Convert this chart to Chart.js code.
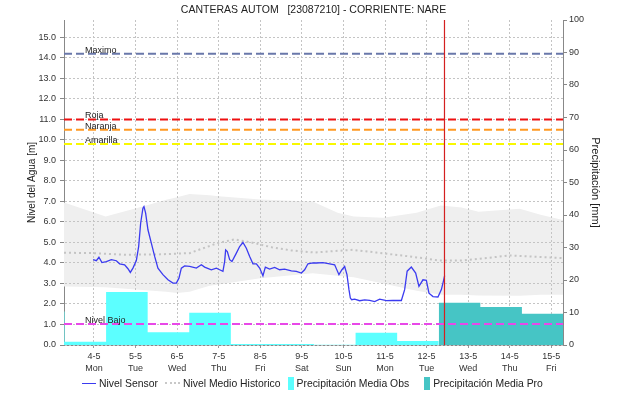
<!DOCTYPE html>
<html>
<head>
<meta charset="utf-8">
<title>CANTERAS AUTOM [23087210] - CORRIENTE: NARE</title>
<script src="https://cdn.jsdelivr.net/npm/chart.js@4.4.1/dist/chart.umd.min.js"></script>
<style>
  body { margin: 0; background: #fff; font-family: 'Liberation Sans', Arial, sans-serif; }
  #wrap { position: relative; width: 618px; height: 401px; }
  #legend { position: absolute; left: 82px; top: 376px; height: 14px; font-size: 10.4px; color: #222;
            display: flex; align-items: center; white-space: nowrap; }
  .item { display: flex; align-items: center; margin-right: 7px; }
  .sym { margin-right: 3px; }
  .line { width: 14px; border-top: 1.5px solid #3b3bf0; }
  .dots { width: 15px; border-top: 2px dotted #c8c8c8; }
  .box { width: 6px; height: 13px; }
</style>
</head>
<body>
<div id="wrap">
  <canvas id="chart" width="618" height="401"></canvas>
  <div id="legend">
    <span class="item"><span class="sym line"></span>Nivel Sensor</span>
    <span class="item"><span class="sym dots"></span>Nivel Medio Historico</span>
    <span class="item"><span class="sym box" style="background:#5cffff"></span>Precipitación Media Obs</span>
    <span class="item" style="margin-left:8px"><span class="sym box" style="background:#46c5c5"></span>Precipitación Media Pro</span>
  </div>
</div>
<script>
// x axis runs in days counted from 4-5 00:00
const dayTicks = [0, 1, 2, 3, 4, 5, 6, 7, 8, 9, 10, 11];
const dateLabels = ['4-5', '5-5', '6-5', '7-5', '8-5', '9-5', '10-5', '11-5', '12-5', '13-5', '14-5', '15-5'];
const weekdayLabels = ['Mon', 'Tue', 'Wed', 'Thu', 'Fri', 'Sat', 'Sun', 'Mon', 'Tue', 'Wed', 'Thu', 'Fri'];
const dayMin = -0.72;
const dayMax = 11.28;
const nowDay = 8.43;

// Nivel Sensor [m]
const sensorDays = [-0.02, 0.058, 0.12, 0.192, 0.298, 0.418, 0.539, 0.618, 0.738, 0.818, 0.875, 0.938,
  1.02, 1.075, 1.123, 1.178, 1.203, 1.243, 1.299, 1.38, 1.46, 1.539, 1.659, 1.78, 1.9, 1.982,
  2.044, 2.102, 2.181, 2.302, 2.463, 2.583, 2.662, 2.823, 2.944, 3.023, 3.102, 3.143, 3.167, 3.208,
  3.264, 3.319, 3.425, 3.504, 3.583, 3.665, 3.745, 3.824, 3.906, 3.985, 4.064, 4.122, 4.225, 4.346,
  4.466, 4.586, 4.747, 4.868, 4.988, 5.067, 5.147, 5.267, 5.349, 5.507, 5.669, 5.789, 5.892, 5.964,
  6.029, 6.085, 6.133, 6.166, 6.198, 6.27, 6.39, 6.511, 6.631, 6.751, 6.872, 7.032, 7.184, 7.393,
  7.472, 7.532, 7.633, 7.737, 7.816, 7.912, 7.994, 8.057, 8.153, 8.273, 8.355, 8.393, 8.434];
const sensorLevel = [4.16, 4.11, 4.28, 4.02, 4.07, 4.16, 4.11, 3.96, 3.91, 3.72, 3.54, 3.75,
  4.12, 4.8, 5.94, 6.67, 6.75, 6.43, 5.62, 4.97, 4.32, 3.75, 3.43, 3.18, 3.02, 3.02,
  3.26, 3.75, 3.86, 3.83, 3.75, 3.91, 3.8, 3.67, 3.75, 3.67, 3.59, 4.07, 4.64, 4.56,
  4.16, 4.07, 4.48, 4.8, 5.0, 4.72, 4.32, 3.96, 3.96, 3.75, 3.38, 3.8, 3.7, 3.78,
  3.67, 3.7, 3.62, 3.59, 3.51, 3.67, 3.96, 4.0, 4.0, 4.02, 3.96, 3.91, 3.43, 3.67,
  3.83, 3.43, 2.7, 2.29, 2.21, 2.24, 2.16, 2.2, 2.18, 2.12, 2.24, 2.16, 2.18, 2.17,
  2.7, 3.6, 3.8, 3.51, 2.86, 3.18, 3.15, 2.53, 2.36, 2.34, 2.7, 3.02, 3.38];

// Nivel Medio Historico [m]
const histDays = [-0.72, -0.03, 0.78, 1.58, 2.3, 2.975, 3.384, 3.785, 4.274, 4.747, 5.308, 5.981,
  6.222, 6.792, 7.593, 8.314, 8.867, 9.437, 10.0, 10.48, 11.28];
const histLevel = [4.5, 4.48, 4.4, 4.42, 4.48, 4.97, 5.15, 5.0, 4.77, 4.61, 4.51, 4.61,
  4.64, 4.51, 4.32, 4.12, 4.12, 4.24, 4.37, 4.32, 4.24];

// historical range band [m]
const bandDays = [-0.72, 0.28, 1.17, 1.74, 2.0, 2.3, 2.78, 3.0, 4.0, 5.26, 5.86, 6.25, 6.95, 7.76,
  8.34, 8.84, 9.25, 10.24, 10.74, 11.28];
const bandUpper = [6.95, 6.27, 6.76, 7.08, 7.2, 7.37, 7.3, 7.25, 7.1, 7.0, 6.45, 6.27, 6.2, 6.45,
  6.8, 6.7, 6.5, 6.65, 6.35, 6.1];
const bandLower = [2.85, 2.82, 2.68, 2.6, 2.53, 2.6, 2.89, 2.95, 3.25, 3.5, 3.38, 3.3, 3.0, 2.65,
  2.45, 2.45, 2.42, 2.4, 2.45, 2.45];

// daily rain totals [mm], each from 07:00 to 07:00
const obsStart = [-1.708, -0.708, 0.292, 1.292, 2.292, 3.292, 4.292, 5.292, 6.292, 7.292];
const obsRain = [10.3, 1.0, 16.3, 3.9, 9.9, 0.3, 0.3, 0.1, 3.8, 1.2];
const obsEnd = 8.292;
const proStart = [8.292, 9.292, 10.292];
const proRain = [13.0, 11.7, 9.6];
const proEnd = 11.6;

// alert levels [m]
const thresholdNames = ['Maximo', 'Roja', 'Naranja', 'Amarilla', 'Nivel Bajo'];
const thresholdLevels = [14.2, 11.0, 10.5, 9.8, 1.03];
const thresholdColors = ['#6a78aa', '#ee1111', '#ff9922', '#f8f800', '#e848e8'];

const FONT = "'Liberation Sans', Arial, sans-serif";
const LEFT_MAX = 15.85;

const pts = (xs, ys) => xs.map((x, i) => ({ x: x, y: ys[i] }));
const steps = (xs, ys, end) => pts(xs, ys).concat([{ x: end, y: ys[ys.length - 1] }]);

const datasets = [
  { label: 'band max', data: pts(bandDays, bandUpper), fill: '+1', backgroundColor: '#efefef',
    borderWidth: 0, pointRadius: 0, order: 10 },
  { label: 'band min', data: pts(bandDays, bandLower), fill: false, borderWidth: 0, pointRadius: 0, order: 9 },
  { label: 'Nivel Medio Historico', data: pts(histDays, histLevel), borderColor: '#c4c4c4',
    borderWidth: 2, borderDash: [2, 3], pointRadius: 0, fill: false, order: 8 },
  { label: 'Precipitación Media Obs', data: steps(obsStart, obsRain, obsEnd), yAxisID: 'y2', stepped: true,
    fill: 'origin', backgroundColor: '#5cffff', borderWidth: 0, pointRadius: 0, order: 7 },
  { label: 'Precipitación Media Pro', data: steps(proStart, proRain, proEnd), yAxisID: 'y2', stepped: true,
    fill: 'origin', backgroundColor: '#46c5c5', borderWidth: 0, pointRadius: 0, order: 6 }
];
thresholdLevels.forEach((v, i) => {
  datasets.push({ label: thresholdNames[i], data: [{ x: dayMin, y: v }, { x: dayMax, y: v }],
    borderColor: thresholdColors[i], borderWidth: 2, borderDash: [8, 4], pointRadius: 0, fill: false, order: 5 });
});
datasets.push({ label: 'Nivel Sensor', data: pts(sensorDays, sensorLevel), borderColor: '#3b3bf0',
  borderWidth: 1.3, pointRadius: 0, fill: false, order: 2 });
datasets.push({ label: 'now', data: [{ x: nowDay, y: 0 }, { x: nowDay, y: LEFT_MAX }],
  borderColor: '#d42020', borderWidth: 1.2, pointRadius: 0, fill: false, order: 1 });

// grid dots sit on top of the grey band but under the rain blocks
const gridOverBand = {
  id: 'gridOverBand',
  afterDatasetDraw(chart, args) {
    if (args.index !== 0) return;
    chart.scales.x.drawGrid(chart.chartArea);
    chart.scales.y.drawGrid(chart.chartArea);
  }
};

const thresholdLabels = {
  id: 'thresholdLabels',
  afterDatasetsDraw(chart) {
    const ctx = chart.ctx;
    const y = chart.scales.y;
    ctx.save();
    ctx.font = '9px ' + FONT;
    ctx.fillStyle = '#222';
    ctx.textBaseline = 'alphabetic';
    thresholdNames.forEach((name, i) => {
      ctx.fillText(name, chart.chartArea.left + 21, y.getPixelForValue(thresholdLevels[i]) - 1);
    });
    ctx.restore();
  }
};

const tickFont = { family: FONT, size: 9 };

new Chart(document.getElementById('chart'), {
  type: 'line',
  data: { datasets: datasets },
  plugins: [gridOverBand, thresholdLabels],
  options: {
    responsive: false,
    animation: false,
    events: [],
    layout: { padding: 0 },
    elements: { line: { tension: 0 } },
    plugins: {
      legend: { display: false },
      tooltip: { enabled: false },
      title: {
        display: true,
        text: 'CANTERAS AUTOM   [23087210] - CORRIENTE: NARE',
        fullSize: false,
        color: '#222',
        font: { family: FONT, size: 10.5, weight: 'normal', lineHeight: 1.2 },
        padding: { top: 4, bottom: 3.4 }
      }
    },
    scales: {
      x: {
        type: 'linear',
        position: 'bottom',
        min: dayMin,
        max: dayMax,
        afterBuildTicks: s => { s.ticks = dayTicks.map(v => ({ value: v })); },
        afterFit: s => { s.height = 56; },
        ticks: {
          autoSkip: false,
          maxRotation: 0,
          padding: 2,
          color: '#333',
          font: Object.assign({ lineHeight: 1.35 }, tickFont),
          callback: (v, i) => [dateLabels[i], weekdayLabels[i]]
        },
        grid: { color: '#c4c4c4', tickLength: 3, tickColor: '#999', borderDash: [2, 2] },
        border: { color: '#888', dash: [2, 2] }
      },
      y: {
        position: 'left',
        min: 0,
        max: LEFT_MAX,
        afterFit: s => { s.width = 64; },
        ticks: {
          stepSize: 1,
          includeBounds: false,
          padding: 4,
          color: '#333',
          font: tickFont,
          callback: v => v.toFixed(1)
        },
        grid: { color: '#c4c4c4', tickLength: 4, tickColor: '#888', borderDash: [2, 2] },
        border: { color: '#888', dash: [2, 2] },
        title: { display: true, text: 'Nivel del Agua [m]', color: '#222',
          font: { family: FONT, size: 10, lineHeight: 1.2 }, padding: { top: 26 } }
      },
      y2: {
        position: 'right',
        min: 0,
        max: 100,
        afterFit: s => { s.width = 55; },
        ticks: { stepSize: 10, padding: 2, color: '#333', font: tickFont },
        grid: { drawOnChartArea: false, tickLength: 4, tickColor: '#888' },
        border: { color: '#888' },
        title: { display: true, text: 'Precipitación [mm]', color: '#222',
          font: { family: FONT, size: 11, lineHeight: 1.2 }, padding: { top: 16 } }
      }
    }
  }
});
</script>
</body>
</html>
